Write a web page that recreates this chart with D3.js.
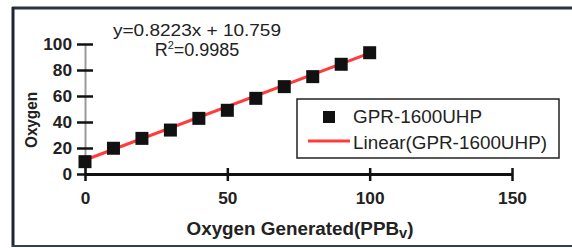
<!DOCTYPE html>
<html>
<head>
<meta charset="utf-8">
<script src="https://cdn.jsdelivr.net/npm/d3@7"></script>
<style>
  body { margin: 0; background: #fff; }
  text { font-family: "Liberation Sans", Arial, sans-serif; }
</style>
</head>
<body>
<div id="chart"></div>
<script>
// Data
const generated = [0, 10, 20, 30, 40, 50, 60, 70, 80, 90, 100];
const oxygen = [9.5, 19.8, 27.4, 33.8, 42.8, 49.0, 58.2, 67.2, 74.9, 84.4, 93.3];
const xTicks = [0, 50, 100, 150];
const yTicks = [0, 20, 40, 60, 80, 100];
const slope = 0.8223, intercept = 10.759;
const seriesName = 'GPR-1600UHP';

let width = 572, height = 248;

let svg = d3.select('#chart')
            .append('svg')
            .attr('width', width)
            .attr('height', height);

// Frame round the picture
svg.append('line').attr('x1', 12).attr('x2', width).attr('y1', 8).attr('y2', 8)
    .attr('stroke', '#2b3340').attr('stroke-width', 3);
svg.append('line').attr('x1', 13).attr('x2', 13).attr('y1', 7).attr('y2', 247)
    .attr('stroke', '#1f2630').attr('stroke-width', 3);
svg.append('line').attr('x1', 12).attr('x2', width).attr('y1', 246).attr('y2', 246)
    .attr('stroke', '#2e4255').attr('stroke-width', 2);

// Scales
let xScale = d3.scaleLinear().domain([0, 150]).range([85, 512]);
let yScale = d3.scaleLinear().domain([0, 100]).range([174, 44]);

// y axis: light grey line with black cross ticks
let yAxis = svg.append('g')
    .attr('transform', `translate(${xScale(0)},0)`)
    .call(d3.axisLeft(yScale).tickValues(yTicks).tickSize(0).tickPadding(13));
yAxis.select('.domain').attr('stroke', '#9a9a9a').attr('stroke-width', 2);
yAxis.selectAll('.tick text')
    .attr('font-size', 16).attr('font-weight', 'bold').attr('fill', '#222')
    .attr('font-family', '"Liberation Sans", Arial, sans-serif')
    .attr('textLength', d => String(d).length * 9.6)
    .attr('lengthAdjust', 'spacingAndGlyphs');
yAxis.selectAll('.tick').append('line')
    .attr('x1', -8).attr('x2', 8)
    .attr('stroke', '#111').attr('stroke-width', 2.5);

// x axis: thick black line with cross ticks
let xAxis = svg.append('g')
    .attr('transform', `translate(0,${yScale(0)})`)
    .call(d3.axisBottom(xScale).tickValues(xTicks).tickSize(0).tickPadding(19));
xAxis.select('.domain').attr('stroke', '#111').attr('stroke-width', 3);
xAxis.selectAll('.tick text')
    .attr('font-size', 16).attr('font-weight', 'bold').attr('fill', '#222')
    .attr('font-family', '"Liberation Sans", Arial, sans-serif')
    .attr('textLength', d => String(d).length * 9.6)
    .attr('lengthAdjust', 'spacingAndGlyphs');
xAxis.selectAll('.tick').append('line')
    .attr('y1', -6).attr('y2', 7)
    .attr('stroke', '#111').attr('stroke-width', 2.5);

// Axis titles
let xTitle = svg.append('text')
    .attr('x', 300)
    .attr('y', 235)
    .attr('text-anchor', 'middle')
    .attr('font-size', 18)
    .attr('font-weight', 'bold')
    .attr('fill', '#222')
    .attr('textLength', 227)
    .attr('lengthAdjust', 'spacingAndGlyphs');
xTitle.append('tspan').text('Oxygen Generated(PPB');
xTitle.append('tspan').attr('font-size', 14).attr('dy', 3).text('v');
xTitle.append('tspan').attr('dy', -3).text(')');

svg.append('text')
    .attr('transform', 'translate(37,120) rotate(-90)')
    .attr('text-anchor', 'middle')
    .attr('font-size', 16)
    .attr('font-weight', 'bold')
    .attr('fill', '#222')
    .attr('textLength', 56)
    .attr('lengthAdjust', 'spacingAndGlyphs')
    .text('Oxygen');

// Trendline
let fit = d3.line()
    .x(d => xScale(d))
    .y(d => yScale(slope * d + intercept));
svg.append('path')
    .datum([generated[0], generated[generated.length - 1]])
    .attr('fill', 'none')
    .attr('stroke', '#ff3b3b')
    .attr('stroke-width', 3)
    .attr('d', fit);

// Points
const mark = 13;
svg.selectAll('rect.pt')
    .data(generated)
    .enter()
    .append('rect')
    .attr('class', 'pt')
    .attr('x', d => xScale(d) - mark / 2)
    .attr('y', (d, i) => yScale(oxygen[i]) - mark / 2)
    .attr('width', mark)
    .attr('height', mark)
    .attr('fill', '#111');

// Equation
svg.append('text')
    .attr('x', 197).attr('y', 36)
    .attr('text-anchor', 'middle')
    .attr('font-size', 17)
    .attr('fill', '#222')
    .attr('textLength', 168)
    .attr('lengthAdjust', 'spacingAndGlyphs')
    .text(`y=${slope}x + ${intercept}`);
let r2 = svg.append('text')
    .attr('x', 197).attr('y', 56)
    .attr('text-anchor', 'middle')
    .attr('font-size', 18)
    .attr('fill', '#222');
r2.append('tspan').text('R');
r2.append('tspan').attr('font-size', 11).attr('dy', -7).text('2');
r2.append('tspan').attr('dy', 7).text('=0.9985');

// Legend
const legend = svg.append('g');
legend.append('rect')
    .attr('x', 297).attr('y', 99)
    .attr('width', 262).attr('height', 59)
    .attr('fill', '#fff')
    .attr('stroke', '#222')
    .attr('stroke-width', 1.5);
legend.append('rect')
    .attr('x', 323).attr('y', 111)
    .attr('width', 12).attr('height', 12)
    .attr('fill', '#111');
legend.append('text')
    .attr('x', 353).attr('y', 123)
    .attr('font-size', 18)
    .attr('fill', '#222')
    .attr('textLength', 129)
    .attr('lengthAdjust', 'spacingAndGlyphs')
    .text(seriesName);
legend.append('line')
    .attr('x1', 308).attr('x2', 350)
    .attr('y1', 141).attr('y2', 141)
    .attr('stroke', '#ff3b3b')
    .attr('stroke-width', 3);
legend.append('text')
    .attr('x', 353).attr('y', 149)
    .attr('font-size', 18)
    .attr('fill', '#222')
    .attr('textLength', 194)
    .attr('lengthAdjust', 'spacingAndGlyphs')
    .text(`Linear(${seriesName})`);
</script>
</body>
</html>
